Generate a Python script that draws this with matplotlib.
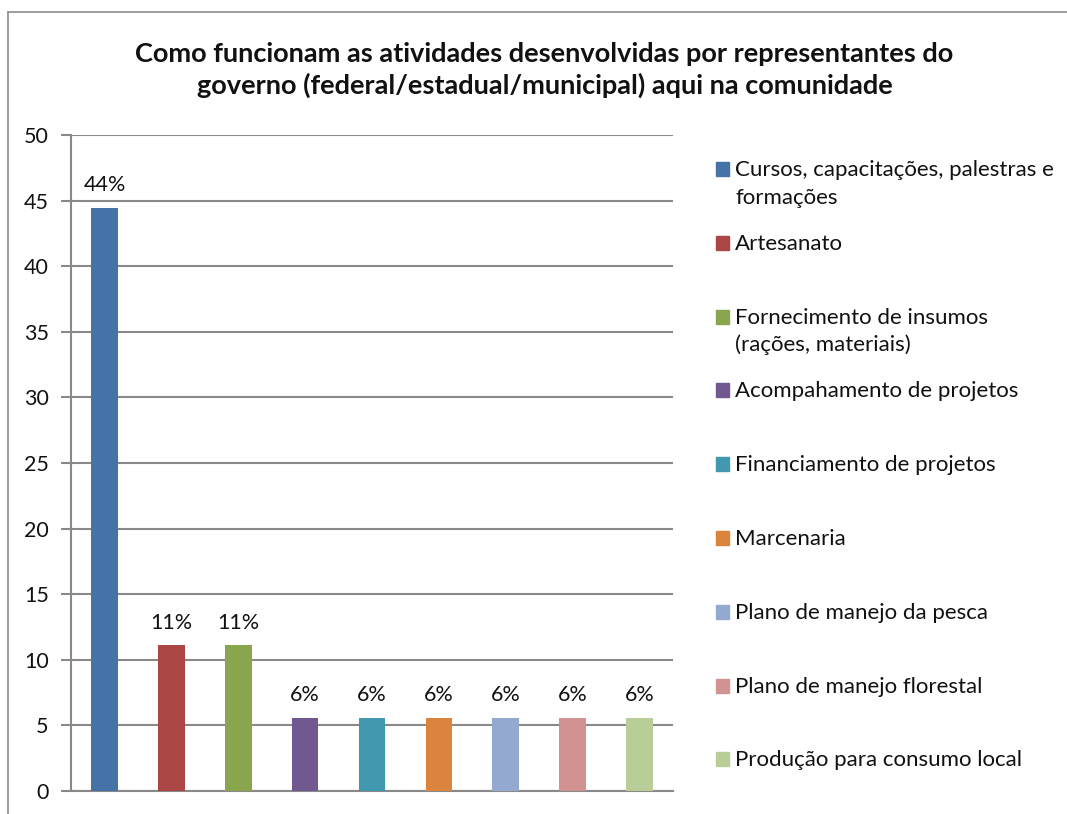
import matplotlib
matplotlib.use("Agg")
import matplotlib.pyplot as plt
from matplotlib.patches import Rectangle
from matplotlib.lines import Line2D

plt.rcParams['font.family'] = ['Lato', 'DejaVu Sans']

categories = [
    "Cursos, capacitações, palestras e\nformações",
    "Artesanato",
    "Fornecimento de insumos\n(rações, materiais)",
    "Acompahamento de projetos",
    "Financiamento de projetos",
    "Marcenaria",
    "Plano de manejo da pesca",
    "Plano de manejo florestal",
    "Produção para consumo local",
]
values = [44.44, 11.11, 11.11, 5.56, 5.56, 5.56, 5.56, 5.56, 5.56]
colors = ["#4572A7", "#AA4643", "#89A54E", "#71588F", "#4198AF",
          "#DB843D", "#93A9CF", "#D19392", "#B9CD96"]
yticks = [0, 5, 10, 15, 20, 25, 30, 35, 40, 45, 50]
title = ("Como funcionam as atividades desenvolvidas por representantes do\n"
         "governo (federal/estadual/municipal) aqui na comunidade")

W, H = 1067, 814
fig = plt.figure(figsize=(W / 100, H / 100), dpi=100)
ax = fig.add_axes([71 / W, 1 - 791 / H, (673 - 71) / W, (791 - 135) / H])

grid_c = "#898989"
txt_c = "#111111"
x = list(range(len(values)))
bars = ax.bar(x, values, width=0.4, color=colors, zorder=3)
for xi, v in zip(x, values):
    ax.annotate(f"{v:.0f}%", (xi, v), xytext=(0, 12), textcoords="offset points",
                ha="center", va="baseline", fontsize=15.5, color=txt_c)

ax.set_xlim(-0.5, len(values) - 0.5)
ax.set_ylim(0, 50)
ax.set_yticks(yticks)
ax.set_xticks([])
ax.yaxis.grid(True, color=grid_c, linewidth=1.5, zorder=0)
for s in ["top", "right"]:
    ax.spines[s].set_visible(False)
for s in ["left", "bottom"]:
    ax.spines[s].set_color(grid_c)
    ax.spines[s].set_linewidth(1.5)
ax.tick_params(axis="y", length=7, width=1.5, color=grid_c, labelsize=15.5,
               labelcolor=txt_c, pad=9)

fig.text(0.5103, 1 - 70 / H, title, ha="center", va="center",
         fontsize=19.5, fontweight="bold", color=txt_c, linespacing=1.3)

# legend entries, one slot per category (baseline of first line)
base0, step, line_h = 176, 73.8, 27.5
for i, (lab, c) in enumerate(zip(categories, colors)):
    yb = base0 + i * step
    fig.add_artist(Rectangle((716 / W, 1 - yb / H), 13 / W, 14 / H,
                             transform=fig.transFigure, color=c))
    for j, part in enumerate(lab.split("\n")):
        fig.text(735 / W, 1 - (yb + j * line_h) / H, part, ha="left",
                 va="baseline", fontsize=16, color=txt_c)

# chart frame
fc = "#8c8c8c"
fig.add_artist(Line2D([8 / W, 8 / W], [0, 1 - 12 / H], transform=fig.transFigure,
                      color=fc, linewidth=1.2))
fig.add_artist(Line2D([8 / W, 1], [1 - 12 / H, 1 - 12 / H], transform=fig.transFigure,
                      color=fc, linewidth=1.2))

fig.savefig("out.png", dpi=100)
